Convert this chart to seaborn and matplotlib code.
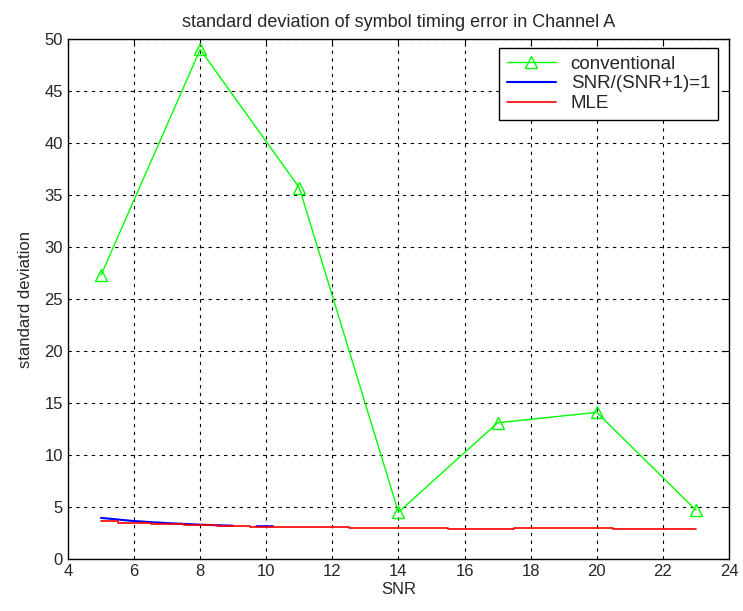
import numpy as np
import pandas as pd
import matplotlib
matplotlib.use("Agg")
import matplotlib.pyplot as plt
import seaborn as sns

snr_conv = [5, 8, 11, 14, 17, 20, 23]
std_conv = [27.3, 49.0, 35.7, 4.5, 13.1, 14.1, 4.7]

snr_blue = [5, 6, 7, 8, 9, 9.4, 9.7, 10.2]
std_blue = [3.95, 3.65, 3.45, 3.3, 3.2, np.nan, 3.15, 3.15]

snr_mle = [5, 6, 7, 8, 9, 10, 11, 12, 13, 14, 15, 16, 17, 18, 19, 20, 21, 22, 23]
std_mle = [3.7, 3.5, 3.35, 3.25, 3.2, 3.1, 3.1, 3.05, 3.0, 3.0, 2.95, 2.9, 2.9, 2.95, 2.95, 2.95, 2.9, 2.85, 2.85]

sns.set_style("white")
plt.rcParams['font.family'] = ['Liberation Sans', 'DejaVu Sans']

fig = plt.figure(figsize=(7.43, 6.11), dpi=100)
ax = fig.add_axes([0.0915, 0.0851, 0.8896, 0.851])

df_c = pd.DataFrame({"SNR": snr_conv, "std": std_conv})
df_b = pd.DataFrame({"SNR": snr_blue, "std": std_blue})
df_m = pd.DataFrame({"SNR": snr_mle, "std": std_mle})

sns.lineplot(data=df_c, x="SNR", y="std", ax=ax, color="#00ff00", lw=1.0,
             marker="^", markersize=9, markerfacecolor="none",
             markeredgecolor="#00ff00", markeredgewidth=1.0, label="conventional")
ax.plot(df_b["SNR"], df_b["std"], color="#0000ff", lw=1.5, label="SNR/(SNR+1)=1")
sns.lineplot(data=df_m, x="SNR", y="std", ax=ax, color="#ff0000", lw=1.2,
             label="MLE", drawstyle="steps-mid")

ax.set_xlim(4, 24)
ax.set_ylim(0, 50)
ax.set_xticks(np.arange(4, 25, 2))
ax.set_yticks(np.arange(0, 51, 5))
ax.grid(True, color="black", linestyle=(0, (3, 4)), linewidth=0.8)
ax.tick_params(direction="in", top=True, right=True, length=5, labelsize=12, color="black")
for s in ax.spines.values():
    s.set_color("black")
    s.set_linewidth(1.0)
ax.set_xlabel("SNR", fontsize=12, labelpad=2)
ax.set_ylabel("standard deviation", fontsize=12, labelpad=8)
ax.set_title("standard deviation of symbol timing error in Channel A", fontsize=13, pad=9)

leg = ax.legend(loc="upper right", bbox_to_anchor=(0.983, 0.983), borderaxespad=0,
                fontsize=13.5, frameon=True, fancybox=False,
                edgecolor="black", framealpha=1,
                handlelength=2.6, labelspacing=0.15, borderpad=0.4)
leg.get_frame().set_linewidth(1.0)

fig.savefig("out.png", dpi=100)
